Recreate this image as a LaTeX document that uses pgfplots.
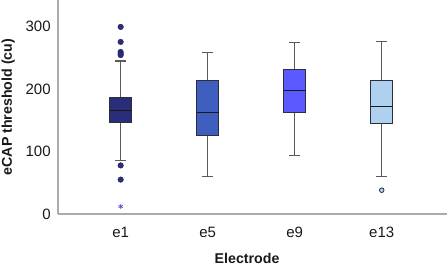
\documentclass[border=0pt]{standalone}
\usepackage{fontspec}
\setmainfont{Liberation Sans}
\usepackage{pgfplots}
\pgfplotsset{compat=1.18}
\definecolor{cA}{HTML}{2A2D7A}
\definecolor{cB}{HTML}{3F5FC0}
\definecolor{cC}{HTML}{5A5AFF}
\definecolor{cD}{HTML}{AFD1F0}
\definecolor{edge}{HTML}{2E2E3A}
\definecolor{whisk}{HTML}{5A5A5A}
\definecolor{axisgray}{HTML}{ABABAB}
\begin{document}
\begin{tikzpicture}
\begin{axis}[
  scale only axis,
  width=389bp, height=214bp,
  xmin=0.28, xmax=4.75, ymin=0, ymax=342,
  axis x line=bottom, axis y line=left,
  axis line style={-, draw=axisgray, line width=1.6bp},
  xtick={1,2,3,4}, xticklabels={e1,e5,e9,e13},
  ytick={0,100,200,300},
  major tick style={draw=none},
  /pgf/number format/assume math mode=true,
  tick label style={font=\fontsize{15bp}{17bp}\selectfont, text=black!90},
  xticklabel style={anchor=base, yshift=-21bp},
  yticklabel style={anchor=east, inner sep=0pt, xshift=-5bp},
  xlabel={Electrode}, ylabel={eCAP threshold (cu)},
  label style={font=\fontsize{14.2bp}{16bp}\selectfont\bfseries, text=black!90},
  xlabel style={at={(axis description cs:0.486,-0.229)}, anchor=base},
  ylabel style={at={(axis description cs:-0.128,0.5)}, anchor=center},
  wh/.style={draw=whisk, line width=1.1bp},
  bx/.style={draw=edge, line width=1bp},
  md/.style={draw=black!90, line width=1.2bp},
]
% e1: whiskers 86 / 244.5, box 146-186, median 165
\addplot[wh] coordinates {(1,186) (1,244.5)};
\addplot[wh] coordinates {(0.935,244.5) (1.065,244.5)};
\addplot[wh] coordinates {(1,146) (1,86)};
\addplot[wh] coordinates {(0.935,86) (1.065,86)};
\addplot[bx, fill=cA] coordinates {(0.875,146) (1.125,146) (1.125,186) (0.875,186)} -- cycle;
\addplot[md] coordinates {(0.875,165) (1.125,165)};
% e5: whiskers 60 / 258, box 126-213, median 162
\addplot[wh] coordinates {(2,213) (2,258)};
\addplot[wh] coordinates {(1.935,258) (2.065,258)};
\addplot[wh] coordinates {(2,126) (2,60)};
\addplot[wh] coordinates {(1.935,60) (2.065,60)};
\addplot[bx, fill=cB] coordinates {(1.875,126) (2.125,126) (2.125,213) (1.875,213)} -- cycle;
\addplot[md] coordinates {(1.875,162) (2.125,162)};
% e9: whiskers 94 / 274, box 162-230.7, median 197.6
\addplot[wh] coordinates {(3,230.7) (3,274)};
\addplot[wh] coordinates {(2.935,274) (3.065,274)};
\addplot[wh] coordinates {(3,162) (3,94)};
\addplot[wh] coordinates {(2.935,94) (3.065,94)};
\addplot[bx, fill=cC] coordinates {(2.875,162) (3.125,162) (3.125,230.7) (2.875,230.7)} -- cycle;
\addplot[md] coordinates {(2.875,197.6) (3.125,197.6)};
% e13: whiskers 60 / 275.5, box 145-214, median 171.5
\addplot[wh] coordinates {(4,214) (4,275.5)};
\addplot[wh] coordinates {(3.935,275.5) (4.065,275.5)};
\addplot[wh] coordinates {(4,145) (4,60)};
\addplot[wh] coordinates {(3.935,60) (4.065,60)};
\addplot[bx, fill=cD] coordinates {(3.875,145) (4.125,145) (4.125,214) (3.875,214)} -- cycle;
\addplot[md] coordinates {(3.875,171.5) (4.125,171.5)};
% outliers
\addplot[only marks, mark=*, mark size=2.8bp, mark options={fill=cA, draw=cA!80!black}]
  coordinates {(1,299) (1,275) (1,259) (1,256) (1,254) (1,77.6) (1,55)};
\addplot[only marks, mark=*, mark size=2.3bp, mark options={fill=cD, draw=edge, line width=0.8bp}]
  coordinates {(4,38)};
\addplot[only marks, mark=asterisk, mark size=2.4bp, mark options={draw=cC!70!cA, line width=0.7bp}]
  coordinates {(1,12)};
\end{axis}
\pgfresetboundingbox
\useasboundingbox (-58bp,-51bp) rectangle (389bp,214bp);
\end{tikzpicture}
\end{document}
